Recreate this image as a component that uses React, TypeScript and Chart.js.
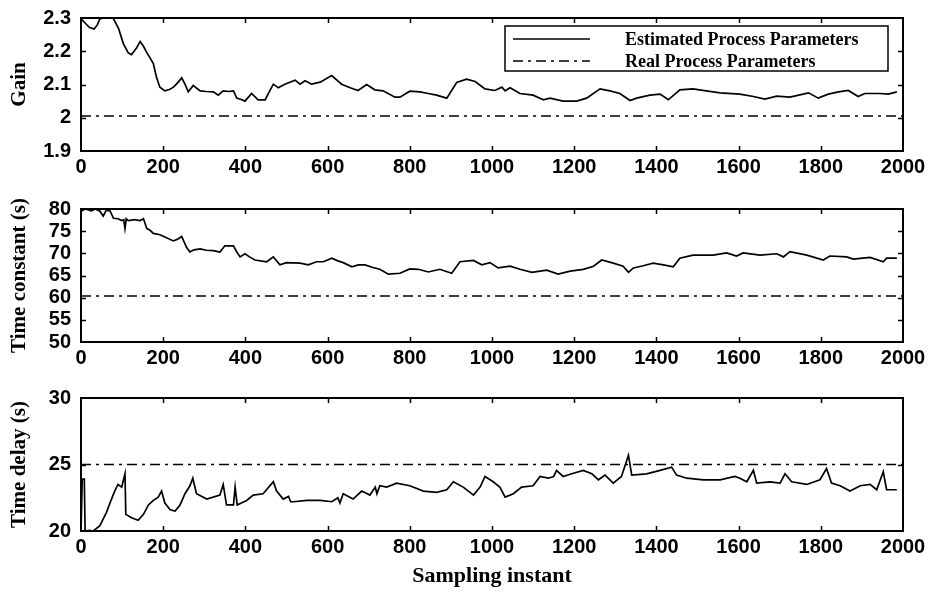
import React, { useEffect, useRef } from "react";
import { Chart, registerables } from "chart.js";

Chart.register(...registerables);

// ---------- data ----------
const X_MIN = 0;
const X_MAX = 2000;
const X_STEP = 200;
const X_TITLE = "Sampling instant";
const LEGEND_LABELS = ["Estimated Process Parameters", "Real Process Parameters"];

// Gain
const GAIN_X = [0, 10, 20, 32, 40, 46, 60, 78, 91, 103, 115, 123, 135, 144, 152, 160, 168, 176, 184, 192, 204, 215, 225, 235, 245, 253, 261, 273, 290, 305, 322, 334, 346, 360, 371, 379, 390, 399, 415, 431, 448, 456, 468, 480, 496, 521, 533, 545, 561, 582, 610, 634, 655, 674, 695, 715, 735, 764, 776, 800, 825, 845, 865, 890, 914, 938, 959, 983, 1007, 1024, 1032, 1044, 1068, 1100, 1125, 1141, 1173, 1206, 1230, 1263, 1287, 1311, 1336, 1352, 1384, 1409, 1429, 1457, 1489, 1521, 1555, 1603, 1636, 1664, 1693, 1725, 1770, 1794, 1818, 1843, 1867, 1891, 1907, 1944, 1964, 1985];
const GAIN_Y = [2.298, 2.285, 2.272, 2.267, 2.28, 2.298, 2.3, 2.3, 2.27, 2.223, 2.195, 2.19, 2.21, 2.229, 2.215, 2.196, 2.18, 2.163, 2.12, 2.092, 2.081, 2.085, 2.092, 2.105, 2.12, 2.101, 2.078, 2.097, 2.081, 2.079, 2.078, 2.068, 2.081, 2.079, 2.081, 2.059, 2.055, 2.05, 2.073, 2.054, 2.054, 2.073, 2.101, 2.09, 2.101, 2.113, 2.101, 2.111, 2.101, 2.107, 2.127, 2.101, 2.09, 2.082, 2.1, 2.084, 2.081, 2.062, 2.062, 2.08, 2.078, 2.073, 2.068, 2.059, 2.106, 2.116, 2.109, 2.087, 2.082, 2.092, 2.081, 2.09, 2.073, 2.068, 2.054, 2.059, 2.05, 2.05, 2.059, 2.087, 2.081, 2.073, 2.052, 2.059, 2.068, 2.071, 2.054, 2.084, 2.087, 2.081, 2.075, 2.071, 2.064, 2.056, 2.065, 2.062, 2.075, 2.059, 2.071, 2.078, 2.082, 2.064, 2.073, 2.073, 2.071, 2.078];
const GAIN_REAL = 2.005;
const GAIN_MIN = 1.9;
const GAIN_MAX = 2.3;
const GAIN_STEP = 0.1;

// Time constant
const TC_X = [0, 10, 25, 35, 46, 54, 62, 71, 79, 90, 99, 104, 107, 110, 115, 130, 144, 152, 160, 168, 176, 192, 208, 225, 235, 245, 257, 265, 275, 290, 305, 322, 338, 350, 371, 379, 387, 399, 410, 423, 452, 468, 484, 500, 533, 553, 573, 590, 610, 625, 638, 659, 675, 691, 710, 727, 748, 776, 800, 821, 845, 873, 902, 922, 955, 975, 995, 1015, 1044, 1068, 1097, 1133, 1161, 1190, 1222, 1247, 1267, 1295, 1319, 1332, 1344, 1368, 1392, 1417, 1441, 1457, 1489, 1538, 1571, 1595, 1611, 1652, 1693, 1709, 1725, 1766, 1806, 1822, 1863, 1879, 1920, 1952, 1960, 1985];
const TC_Y = [79.5, 80, 79.6, 80, 79.5, 78.4, 79.8, 79.5, 77.9, 77.8, 77.4, 77.6, 75.6, 77.8, 77.4, 77.6, 77.4, 77.8, 75.6, 75.2, 74.5, 74.2, 73.5, 72.8, 73.2, 73.8, 71.3, 70.3, 70.8, 71, 70.7, 70.6, 70.3, 71.7, 71.7, 70.3, 69.2, 69.9, 69.2, 68.5, 68.1, 69.2, 67.4, 67.9, 67.8, 67.4, 68.1, 68.1, 68.9, 68.3, 67.9, 66.96, 67.4, 67.4, 66.8, 66.4, 65.3, 65.5, 66.5, 66.4, 65.8, 66.4, 65.5, 68.1, 68.4, 67.4, 67.9, 66.7, 67.1, 66.4, 65.7, 66.2, 65.3, 66, 66.4, 67.1, 68.5, 67.8, 67.1, 65.7, 66.7, 67.2, 67.8, 67.4, 66.96, 68.9, 69.6, 69.6, 70.1, 69.4, 70.1, 69.6, 69.9, 69.2, 70.4, 69.6, 68.5, 69.4, 69.2, 68.7, 69.1, 68.1, 68.9, 68.9];
const TC_REAL = 60.4;
const TC_MIN = 50;
const TC_MAX = 80;
const TC_STEP = 5;

// Time delay
const TD_X = [0, 3, 8, 10, 20, 30, 46, 62, 73, 82, 90, 99, 107, 109, 123, 139, 152, 164, 176, 188, 196, 204, 217, 229, 241, 253, 265, 272, 281, 306, 338, 346, 354, 371, 375, 380, 403, 419, 443, 468, 476, 492, 505, 510, 517, 549, 572, 582, 610, 625, 630, 638, 662, 683, 703, 716, 720, 727, 744, 768, 800, 833, 865, 890, 906, 930, 955, 971, 983, 1003, 1019, 1032, 1052, 1072, 1100, 1117, 1137, 1150, 1157, 1173, 1194, 1222, 1243, 1259, 1275, 1295, 1315, 1332, 1340, 1376, 1409, 1437, 1449, 1474, 1514, 1555, 1591, 1603, 1620, 1636, 1644, 1676, 1701, 1713, 1729, 1766, 1798, 1814, 1826, 1847, 1871, 1896, 1920, 1936, 1952, 1960, 1985];
const TD_Y = [20, 23.9, 23.9, 20, 20.05, 20, 20.4, 21.4, 22.3, 23.0, 23.5, 23.3, 24.3, 21.25, 21.0, 20.8, 21.25, 21.96, 22.3, 22.55, 23.0, 22.1, 21.6, 21.5, 21.96, 22.8, 23.4, 23.97, 22.8, 22.4, 22.7, 23.5, 21.96, 21.96, 23.3, 21.96, 22.3, 22.7, 22.8, 23.7, 23.0, 22.4, 22.6, 22.2, 22.2, 22.3, 22.3, 22.3, 22.2, 22.5, 22.1, 22.8, 22.4, 23.0, 22.7, 23.3, 22.8, 23.4, 23.3, 23.6, 23.4, 23.0, 22.9, 23.1, 23.7, 23.3, 22.7, 23.3, 24.1, 23.7, 23.3, 22.55, 22.8, 23.3, 23.4, 24.1, 23.97, 24.1, 24.56, 24.1, 24.3, 24.56, 24.3, 23.85, 24.2, 23.6, 24.1, 25.7, 24.2, 24.3, 24.56, 24.8, 24.2, 23.97, 23.85, 23.85, 24.1, 23.97, 23.7, 24.56, 23.6, 23.7, 23.6, 24.3, 23.7, 23.5, 23.85, 24.7, 23.6, 23.4, 23.0, 23.4, 23.5, 23.1, 24.45, 23.1, 23.1];
const TD_REAL = 25;
const TD_MIN = 20;
const TD_MAX = 30;
const TD_STEP = 5;

// ---------- styling ----------
const TICK_FONT = { family: "'Liberation Sans', Arial, sans-serif", size: 20, weight: "bold" as const };
const TITLE_FONT = { family: "'Liberation Serif', 'Times New Roman', serif", size: 21, weight: "bold" as const };
const XTITLE_FONT = { family: "'Liberation Serif', 'Times New Roman', serif", size: 22, weight: "bold" as const };
const DASH_DOT = [10, 5, 3, 5];

const framePlugin = {
  id: "frame",
  afterDraw(chart: any) {
    const { ctx, chartArea } = chart;
    const { left, right, top, bottom } = chartArea;
    const xs = chart.scales.x;
    const ys = chart.scales.y;
    ctx.save();
    ctx.strokeStyle = "#000";
    ctx.lineWidth = 2;
    ctx.strokeRect(left, top, right - left, bottom - top);
    ctx.lineWidth = 1.5;
    const L = 5;
    ctx.beginPath();
    xs.ticks.forEach((t: any) => {
      const px = Math.round(xs.getPixelForValue(t.value)) + 0.5;
      if (px <= left + 1 || px >= right - 1) return;
      ctx.moveTo(px, bottom);
      ctx.lineTo(px, bottom - L);
      ctx.moveTo(px, top);
      ctx.lineTo(px, top + L);
    });
    ys.ticks.forEach((t: any) => {
      const py = Math.round(ys.getPixelForValue(t.value)) + 0.5;
      if (py <= top + 1 || py >= bottom - 1) return;
      ctx.moveTo(left, py);
      ctx.lineTo(left + L, py);
      ctx.moveTo(right, py);
      ctx.lineTo(right - L, py);
    });
    ctx.stroke();
    ctx.restore();
  },
};

const legendBoxPlugin = {
  id: "legendBox",
  afterDraw(chart: any, _args: any, opts: any) {
    if (!opts || !opts.show) return;
    const { ctx, chartArea } = chart;
    const bx = chartArea.right - 398;
    const by = chartArea.top + 8;
    const bw = 383;
    const bh = 45;
    ctx.save();
    ctx.fillStyle = "#fff";
    ctx.fillRect(bx, by, bw, bh);
    ctx.strokeStyle = "#000";
    ctx.lineWidth = 1.5;
    ctx.strokeRect(bx, by, bw, bh);
    const rows = [by + 13, by + 35];
    chart.data.datasets.forEach((ds: any, i: number) => {
      const y = rows[i];
      ctx.beginPath();
      ctx.setLineDash(ds.borderDash || []);
      ctx.lineWidth = 1.5;
      ctx.moveTo(bx + 8, y);
      ctx.lineTo(bx + 85, y);
      ctx.stroke();
      ctx.setLineDash([]);
      ctx.fillStyle = "#000";
      ctx.font = "bold 18px 'Liberation Serif', 'Times New Roman', serif";
      ctx.textBaseline = "middle";
      ctx.textAlign = "left";
      ctx.fillText(ds.label, bx + 120, y + 1);
    });
    ctx.restore();
  },
};

type PanelCfg = {
  xs: number[];
  ys: number[];
  real: number;
  min: number;
  max: number;
  step: number;
  title: string;
  top: number;
  height: number;
  xAxisHeight: number;
  xTitle?: string;
  legend?: boolean;
};

const fmt = (v: number) => String(Number(Number(v).toFixed(1)));

function Panel({ cfg }: { cfg: PanelCfg }) {
  const ref = useRef<HTMLCanvasElement | null>(null);
  useEffect(() => {
    if (!ref.current) return;
    const chart = new Chart(ref.current, {
      type: "line",
      data: {
        datasets: [
          {
            label: LEGEND_LABELS[0],
            data: cfg.xs.map((x, i) => ({ x, y: cfg.ys[i] })),
            borderColor: "#000",
            borderWidth: 1.7,
            pointRadius: 0,
            fill: false,
            tension: 0,
          },
          {
            label: LEGEND_LABELS[1],
            data: [
              { x: X_MIN, y: cfg.real },
              { x: X_MAX, y: cfg.real },
            ],
            borderColor: "#000",
            borderWidth: 1.5,
            borderDash: DASH_DOT,
            pointRadius: 0,
            fill: false,
          },
        ],
      },
      options: {
        animation: false,
        responsive: false,
        devicePixelRatio: 1,
        layout: { padding: { top: 14, right: 30, left: 0, bottom: 0 } },
        plugins: {
          legend: { display: false },
          tooltip: { enabled: false },
          legendBox: { show: !!cfg.legend },
        } as any,
        scales: {
          x: {
            type: "linear",
            min: X_MIN,
            max: X_MAX,
            grid: { display: false, drawTicks: false },
            border: { display: false },
            ticks: {
              stepSize: X_STEP,
              autoSkip: false,
              maxRotation: 0,
              color: "#000",
              font: TICK_FONT,
              padding: 4,
              callback: (v: any) => String(v),
            },
            title: cfg.xTitle
              ? { display: true, text: cfg.xTitle, color: "#000", font: XTITLE_FONT, padding: { top: 0, bottom: 3 } }
              : { display: false },
            afterFit: (s: any) => {
              s.height = cfg.xAxisHeight;
            },
          },
          y: {
            type: "linear",
            min: cfg.min,
            max: cfg.max,
            grid: { display: false, drawTicks: false },
            border: { display: false },
            ticks: {
              stepSize: cfg.step,
              autoSkip: false,
              color: "#000",
              font: TICK_FONT,
              padding: 10,
              callback: (v: any) => fmt(v),
            },
            title: { display: true, text: cfg.title, color: "#000", font: TITLE_FONT, padding: { top: 7, bottom: 0 } },
            afterFit: (s: any) => {
              s.width = 81;
            },
          },
        },
      } as any,
      plugins: [framePlugin, legendBoxPlugin],
    });
    return () => chart.destroy();
  }, [cfg]);
  return (
    <canvas
      ref={ref}
      width={933}
      height={cfg.height}
      style={{ position: "absolute", left: 0, top: cfg.top, width: 933, height: cfg.height }}
    />
  );
}

const PANELS: PanelCfg[] = [
  { xs: GAIN_X, ys: GAIN_Y, real: GAIN_REAL, min: GAIN_MIN, max: GAIN_MAX, step: GAIN_STEP, title: "Gain", top: -4, height: 189, xAxisHeight: 34, legend: true },
  { xs: TC_X, ys: TC_Y, real: TC_REAL, min: TC_MIN, max: TC_MAX, step: TC_STEP, title: "Time constant (s)", top: 187, height: 189, xAxisHeight: 34 },
  { xs: TD_X, ys: TD_Y, real: TD_REAL, min: TD_MIN, max: TD_MAX, step: TD_STEP, title: "Time delay (s)", top: 376, height: 217, xAxisHeight: 62, xTitle: X_TITLE },
];

export default function App() {
  return (
    <div
      style={{
        position: "fixed",
        left: 0,
        top: 0,
        width: 933,
        height: 593,
        background: "#fff",
        overflow: "hidden",
      }}
    >
      {PANELS.map((p, i) => (
        <Panel key={i} cfg={p} />
      ))}
    </div>
  );
}
